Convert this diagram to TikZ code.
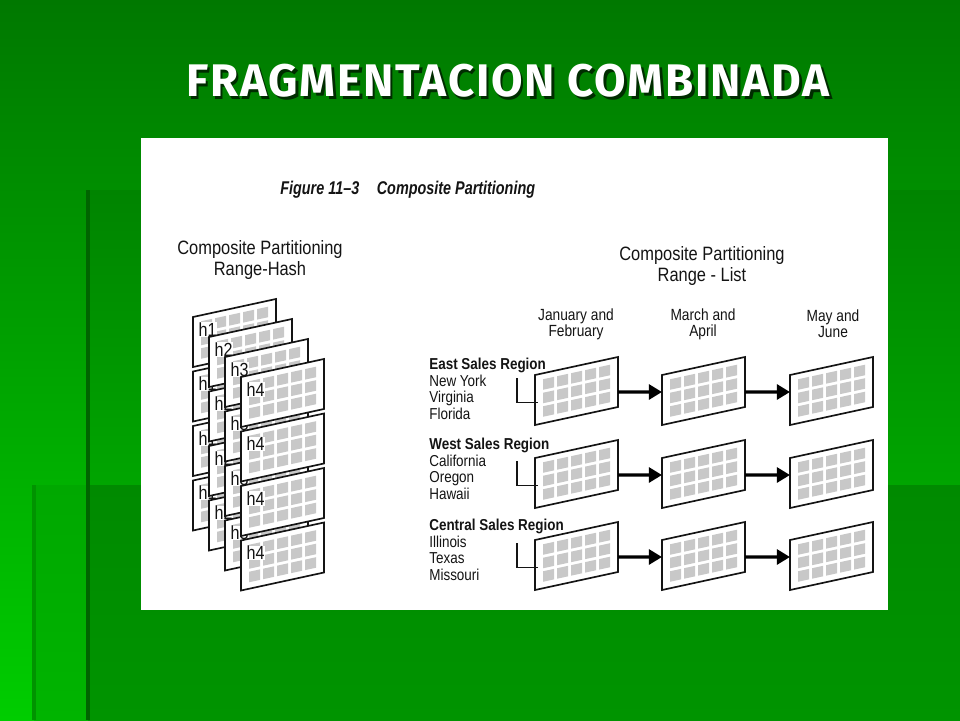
\documentclass[tikz,border=0pt]{standalone}
\usepackage{fontspec}
\setmainfont[FakeStretch=0.85]{Liberation Sans}
\newfontfamily\capfont[FakeStretch=0.78]{Liberation Sans}
\newfontfamily\titlefont[LetterSpace=4]{Fira Sans}
\usetikzlibrary{arrows.meta}

\definecolor{slidetop}{RGB}{0,120,0}
\definecolor{slidebottom}{RGB}{0,205,0}
\definecolor{panetop}{RGB}{0,132,0}
\definecolor{panemid}{RGB}{0,165,0}
\definecolor{striptop}{RGB}{0,168,0}
\definecolor{stripbot}{RGB}{0,180,0}
\definecolor{lowtop}{RGB}{0,138,0}
\definecolor{lowbot}{RGB}{0,148,0}
\definecolor{edgegreen}{RGB}{0,100,0}
\definecolor{shadowgreen}{RGB}{0,45,0}
\definecolor{inktext}{RGB}{20,20,20}
\definecolor{cellgray}{RGB}{200,200,200}

\tikzset{
  heading/.style={font=\titlefont\bfseries\fontsize{26}{30}\selectfont, text=white, inner sep=0pt},
  sheet/.style={draw=inktext, fill=white, line width=0.95pt},
  cell/.style={fill=cellgray},
  hashmark/.style={font=\fontsize{10.8}{11}\selectfont, text=inktext, fill=white, inner sep=0.2pt, anchor=base west},
  subtitle/.style={font=\fontsize{11}{11.4}\selectfont, text=inktext, align=center, inner sep=0pt},
  colhead/.style={font=\fontsize{9.2}{9.1}\selectfont, text=inktext, align=center, inner sep=0pt},
  region/.style={font=\fontsize{9}{9.35}\selectfont, text=inktext, align=left, anchor=north west, inner sep=0pt},
  flow/.style={draw=black, line width=1.9pt, -{Triangle[length=7.5pt,width=8.5pt]}},
  hook/.style={draw=inktext, line width=0.6pt}
}

% one slanted partition sheet: name, x, y, label
\newcommand{\pane}[4]{%
  \begin{scope}[shift={(#2,#3)}, yslant=0.217]
    \draw[sheet] (0,0) rectangle (83,50);
    \foreach \i in {0,...,4}
      \foreach \j in {0,...,2}
        \fill[cell] (8+14*\i,6+13.5*\j) rectangle ++(11,10.5);
    \node[hashmark] (#1-tag) at (5,20.5) {#4};
    \coordinate (#1-in) at (0,17);
    \coordinate (#1-out) at (83,35);
    \coordinate (#1-mid) at (3,28);
  \end{scope}
  \path (#2,#3) ++(-18,3) coordinate (#1-hook);}

\begin{document}
\begin{tikzpicture}[x=0.02cm,y=-0.02cm]
\useasboundingbox (0,0) rectangle (960,720);

% slide background
\shade[top color=slidetop, bottom color=slidebottom] (0,0) rectangle (960,720);
\shade[top color=panetop, bottom color=panemid] (88,190) rectangle (960,485);
\shade[top color=striptop, bottom color=stripbot] (34,485) rectangle (960,720);
\shade[top color=lowtop, bottom color=lowbot] (88,485) rectangle (960,720);
\fill[edgegreen] (86,190) rectangle (90,720);
\fill[edgegreen!70!green] (32,485) rectangle (36,720);
\fill[white] (141,138) rectangle (888,610);

\node[heading, text=shadowgreen] (titleshadow) at (510.5,83.5) {FRAGMENTACION COMBINADA};
\node[heading] (title) at (508,81) {FRAGMENTACION COMBINADA};

\node[anchor=base west, font=\capfont\bfseries\itshape\fontsize{10.5}{12}\selectfont, text=inktext, inner sep=0pt] (caption) at (280,194) {Figure 11–3\hspace{10pt}Composite Partitioning};

\node[subtitle] (hashhead) at (260,260) {Composite Partitioning\\Range-Hash};
\node[subtitle] (listhead) at (702,266) {Composite Partitioning\\Range - List};

\node[colhead] (janfeb) at (576,324) {January and\\February};
\node[colhead] (marapr) at (703,324) {March and\\April};
\node[colhead] (mayjun) at (833,324) {May and\\June};

\node[region] (east) at (429,358) {\textbf{East Sales Region}\\New York\\Virginia\\Florida};
\node[region] (west) at (429,438) {\textbf{West Sales Region}\\California\\Oregon\\Hawaii};
\node[region] (central) at (429,519) {\textbf{Central Sales Region}\\Illinois\\Texas\\Missouri};

% range-hash stack
\foreach \k in {1,...,4}
  \foreach \r in {0,...,3}
    \pane{h\k\r}{177+16*\k}{297+20*\k+54.5*\r}{h\k};

% range-list rows
\foreach \y/\n in {375/e,458/w,540/c}{
  \pane{\n1}{535}{\y}{}
  \pane{\n2}{662}{\y}{}
  \pane{\n3}{790}{\y}{}
  \draw[flow] (\n1-out) -- (\n2-in);
  \draw[flow] (\n2-out) -- (\n3-in);
  \draw[hook] (\n1-hook) |- (\n1-mid);
}

\end{tikzpicture}
\end{document}
